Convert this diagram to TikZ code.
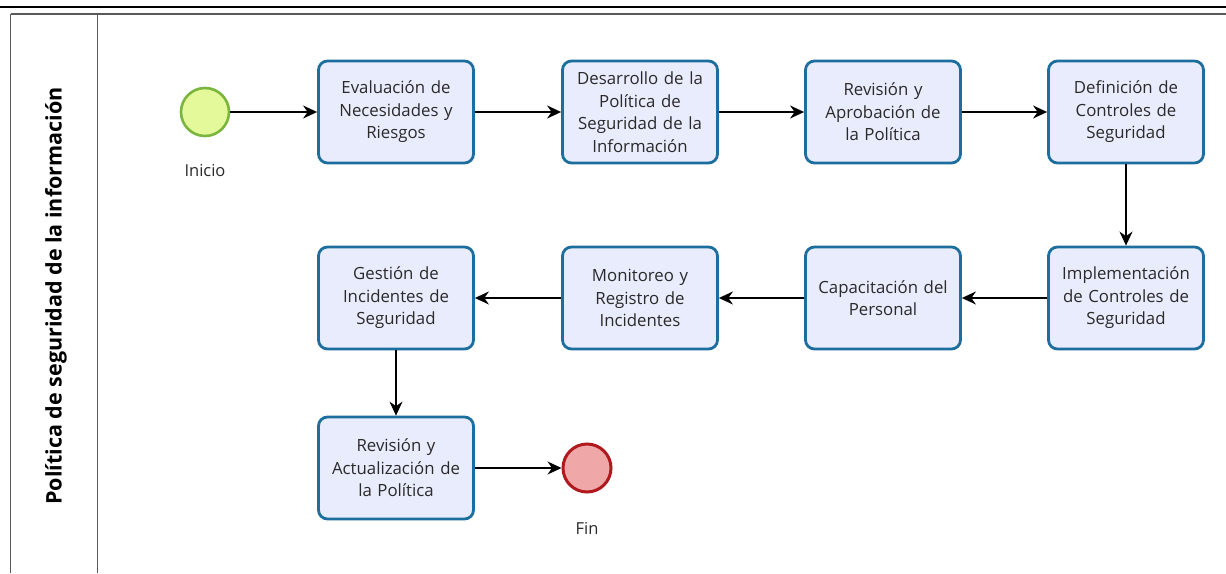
\documentclass[tikz,border=0pt]{standalone}
\usepackage{fontspec}
\setmainfont{Open Sans}
\usetikzlibrary{arrows.meta}
\definecolor{taskfill}{HTML}{E8ECFC}
\definecolor{taskline}{HTML}{1B6E9E}
\definecolor{startfill}{HTML}{E4FA9A}
\definecolor{startline}{HTML}{7AB53E}
\definecolor{endfill}{HTML}{EFA7A7}
\definecolor{endline}{HTML}{B01A1E}
\definecolor{txt}{HTML}{2A2A2A}
\tikzset{
  task/.style={draw=taskline, line width=2.8pt, fill=taskfill, rounded corners=9pt,
    minimum width=155pt, minimum height=102pt, align=center, text width=154pt,
    font=\fontsize{16.8}{22.5}\selectfont, text=txt, inner sep=0pt},
  startev/.style={circle, draw=startline, line width=2.6pt, fill=startfill, minimum size=48pt, inner sep=0pt},
  endev/.style={circle, draw=endline, line width=3pt, fill=endfill, minimum size=48pt, inner sep=0pt},
  evlabel/.style={font=\fontsize{16.5}{18}\selectfont, text=txt},
  flow/.style={draw=black, line width=1.5pt, -{Stealth[length=14pt,width=13pt]}},
  frame/.style={draw=black!65, line width=1.2pt},
}
\begin{document}
\begin{tikzpicture}[x=1pt,y=-1pt]
\useasboundingbox (0,0) rectangle (1226,573);
\fill[white] (0,0) rectangle (1226,573);
% header rules
\draw[black, line width=2.2pt] (0,7) -- (1226,7);
\draw[frame] (10.5,14) -- (1226,14);
% pool and lane borders
\draw[frame] (10.5,14) -- (10.5,573);
\draw[frame] (97.5,14) -- (97.5,573);
\node[rotate=90, font=\fontsize{21.5}{24}\selectfont\bfseries, text=black] (lane) at (56,296) {Política de seguridad de la información};

% events
\node[startev] (start) at (205,112) {};
\node[evlabel] (startlbl) at (205,171) {Inicio};
\node[endev] (fin) at (587,468) {};
\node[evlabel] (finlbl) at (587,528) {Fin};

% tasks
\node[task] (t1) at (396,112) {Evaluación de\\Necesidades y\\Riesgos};
\node[task] (t2) at (640,112) {Desarrollo de la\\Política de\\Seguridad de la\\Información};
\node[task] (t3) at (883,112) {Revisión y\\Aprobación de\\la Política};
\node[task] (t4) at (1126,112) {Definición de\\Controles de\\Seguridad};
\node[task] (t5) at (1126,298) {Implementación\\de Controles de\\Seguridad};
\node[task] (t6) at (883,298) {Capacitación del\\Personal};
\node[task] (t7) at (640,298) {Monitoreo y\\Registro de\\Incidentes};
\node[task] (t8) at (396,298) {Gestión de\\Incidentes de\\Seguridad};
\node[task] (t9) at (396,468) {Revisión y\\Actualización de\\la Política};

% sequence flows
\draw[flow] (start) -- (t1);
\draw[flow] (t1) -- (t2);
\draw[flow] (t2) -- (t3);
\draw[flow] (t3) -- (t4);
\draw[flow] (t4) -- (t5);
\draw[flow] (t5) -- (t6);
\draw[flow] (t6) -- (t7);
\draw[flow] (t7) -- (t8);
\draw[flow] (t8) -- (t9);
\draw[flow] (t9) -- (fin);
\end{tikzpicture}
\end{document}
